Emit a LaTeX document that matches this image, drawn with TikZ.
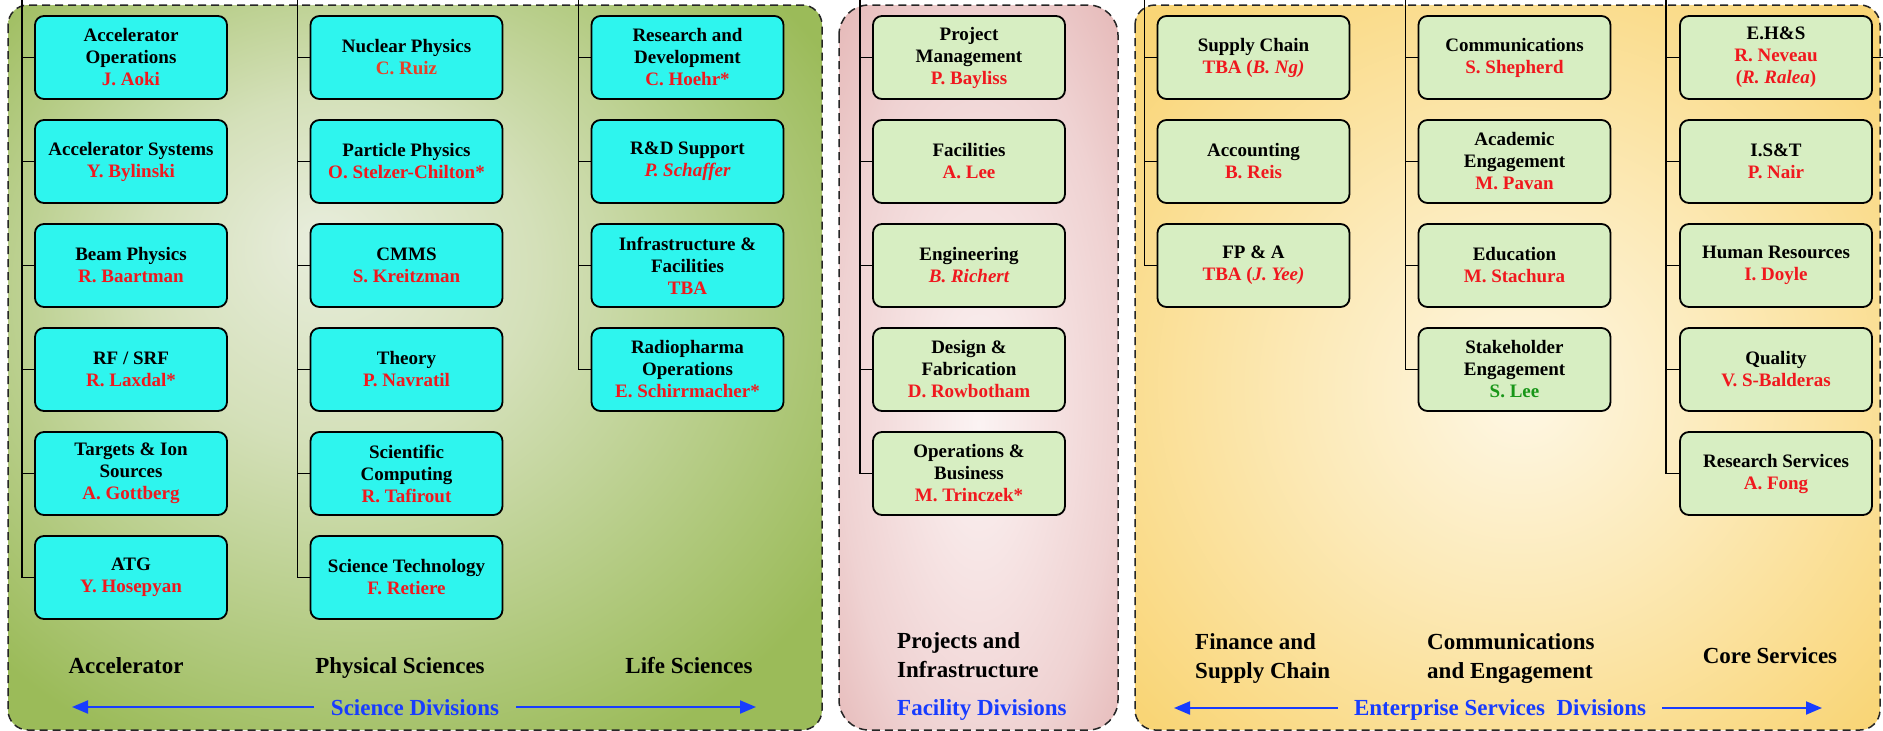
\documentclass[tikz,border=0pt]{standalone}
\usepackage{fontspec}
\setmainfont{Liberation Serif}
\usetikzlibrary{arrows.meta}
\definecolor{nred}{RGB}{240,24,30}
\definecolor{nora}{RGB}{232,64,40}
\definecolor{ngreen}{RGB}{24,150,24}
\definecolor{dblue}{RGB}{24,60,255}
\definecolor{cyanbox}{RGB}{46,245,238}
\definecolor{greenbox}{RGB}{215,238,194}
\definecolor{scil}{RGB}{232,237,220}
\definecolor{scim}{RGB}{212,224,185}
\definecolor{scid}{RGB}{155,187,89}
\definecolor{pinl}{RGB}{251,243,243}
\definecolor{pinm}{RGB}{246,227,227}
\definecolor{pinn}{RGB}{239,210,210}
\definecolor{pind}{RGB}{228,181,180}
\definecolor{yell}{RGB}{254,247,228}
\definecolor{yelm}{RGB}{252,234,185}
\definecolor{yeld}{RGB}{249,213,118}
\pgfdeclareradialshading{sciglow}{\pgfpoint{-6bp}{9bp}}{color(0bp)=(scil); color(12bp)=(scim); color(33bp)=(scid); color(50bp)=(scid)}
\pgfdeclareradialshading{pinglow}{\pgfpoint{0bp}{-4bp}}{color(0bp)=(pinl); color(12bp)=(pinm); color(25bp)=(pinn); color(38bp)=(pind); color(50bp)=(pind)}
\pgfdeclareradialshading{yelglow}{\pgfpoint{1bp}{-2bp}}{color(0bp)=(yell); color(14bp)=(yelm); color(34bp)=(yeld); color(50bp)=(yeld)}
\newcommand{\nm}[1]{\textcolor{nred}{#1}}
\begin{document}
\begin{tikzpicture}[x=1pt,y=-1pt,
  panel/.style={draw=black!85, line width=1.5pt, dash pattern=on 8pt off 5pt},
  boxbase/.style={draw=black, line width=1.8pt, rounded corners=9pt, minimum width=192pt, minimum height=83pt, inner sep=0pt, align=center, font=\bfseries\fontsize{19}{22}\selectfont},
  sbox/.style={boxbase, fill=cyanbox},
  gbox/.style={boxbase, fill=greenbox},
  trunk/.style={draw=black, line width=1.8pt},
  lab/.style={font=\bfseries\fontsize{23}{29}\selectfont, inner sep=0pt, align=left},
  blab/.style={lab, text=dblue},
  barrow/.style={draw=dblue, line width=2pt, -{Triangle[length=16pt,width=13pt]}}
]
\useasboundingbox (0,0) rectangle (1883,731);
\fill[white] (0,0) rectangle (1883,731);
% panels
\draw[panel, shading=sciglow, rounded corners=20pt] (8,5) rectangle (822,730);
\draw[panel, shading=pinglow, rounded corners=30pt] (839,5) rectangle (1118,730);
\draw[panel, shading=yelglow, rounded corners=20pt] (1135,5) rectangle (1880,730);

% Accelerator column
\node[sbox] (acc0) at (131,57.5) {Accelerator\\Operations\\\nm{J. Aoki}};
\node[sbox] (acc1) at (131,161.5) {Accelerator Systems\\\nm{Y. Bylinski}};
\node[sbox] (acc2) at (131,265.5) {Beam Physics\\\nm{R. Baartman}};
\node[sbox] (acc3) at (131,369.5) {RF / SRF\\\nm{R. Laxdal*}};
\node[sbox] (acc4) at (131,473.5) {Targets \& Ion\\Sources\\\nm{A. Gottberg}};
\node[sbox] (acc5) at (131,577.5) {ATG\\\nm{Y. Hosepyan}};
% Physical sciences
\node[sbox] (phy0) at (406.5,57.5) {Nuclear Physics\\\textcolor{nora}{C. Ruiz}};
\node[sbox] (phy1) at (406.5,161.5) {Particle Physics\\\nm{O. Stelzer-Chilton*}};
\node[sbox] (phy2) at (406.5,265.5) {CMMS\\\nm{S. Kreitzman}};
\node[sbox] (phy3) at (406.5,369.5) {Theory\\\nm{P. Navratil}};
\node[sbox] (phy4) at (406.5,473.5) {Scientific\\Computing\\\nm{R. Tafirout}};
\node[sbox] (phy5) at (406.5,577.5) {Science Technology\\\nm{F. Retiere}};
% Life sciences
\node[sbox] (lif0) at (687.5,57.5) {Research and\\Development\\\nm{C. Hoehr*}};
\node[sbox] (lif1) at (687.5,161.5) {R\&D Support\\\nm{\itshape P. Schaffer}};
\node[sbox] (lif2) at (687.5,265.5) {Infrastructure \&\\Facilities\\\nm{TBA}};
\node[sbox] (lif3) at (687.5,369.5) {Radiopharma\\Operations\\\nm{E. Schirrmacher*}};
% Projects
\node[gbox] (prj0) at (969,57.5) {Project\\Management\\\nm{P. Bayliss}};
\node[gbox] (prj1) at (969,161.5) {Facilities\\\nm{A. Lee}};
\node[gbox] (prj2) at (969,265.5) {Engineering\\\nm{\itshape B. Richert}};
\node[gbox] (prj3) at (969,369.5) {Design \&\\Fabrication\\\nm{D. Rowbotham}};
\node[gbox] (prj4) at (969,473.5) {Operations \&\\Business\\\nm{M. Trinczek*}};
% Finance
\node[gbox] (fin0) at (1253.5,57.5) {Supply Chain\\\nm{TBA (\textit{B. Ng)}}};
\node[gbox] (fin1) at (1253.5,161.5) {Accounting\\\nm{B. Reis}};
\node[gbox] (fin2) at (1253.5,265.5) {FP \& A\\\nm{TBA (\textit{J. Yee)}}};
% Communications
\node[gbox] (com0) at (1514.5,57.5) {Communications\\\nm{S. Shepherd}};
\node[gbox] (com1) at (1514.5,161.5) {Academic\\Engagement\\\nm{M. Pavan}};
\node[gbox] (com2) at (1514.5,265.5) {Education\\\nm{M. Stachura}};
\node[gbox] (com3) at (1514.5,369.5) {Stakeholder\\Engagement\\\textcolor{ngreen}{S. Lee}};
% Core services
\node[gbox] (cor0) at (1776,57.5) {E.H\&S\\\nm{R. Neveau}\\\nm{(\textit{R. Ralea})}};
\node[gbox] (cor1) at (1776,161.5) {I.S\&T\\\nm{P. Nair}};
\node[gbox] (cor2) at (1776,265.5) {Human Resources\\\nm{I. Doyle}};
\node[gbox] (cor3) at (1776,369.5) {Quality\\\nm{V. S-Balderas}};
\node[gbox] (cor4) at (1776,473.5) {Research Services\\\nm{A. Fong}};

% trunks
\coordinate (accT) at (22,0);
\coordinate (phyT) at (297.5,0);
\coordinate (lifT) at (578.5,0);
\coordinate (prjT) at (860,0);
\coordinate (finT) at (1144.5,0);
\coordinate (comT) at (1405.5,0);
\coordinate (corT) at (1666,0);
\coordinate (corR) at (1883,57.5);
\draw[trunk] (accT) |- (acc5.west);
\foreach \i in {0,...,4} \draw[trunk] (acc\i.west) -- (acc\i.west -| accT);
\draw[trunk] (phyT) |- (phy5.west);
\foreach \i in {0,...,4} \draw[trunk] (phy\i.west) -- (phy\i.west -| phyT);
\draw[trunk] (lifT) |- (lif3.west);
\foreach \i in {0,...,2} \draw[trunk] (lif\i.west) -- (lif\i.west -| lifT);
\draw[trunk] (prjT) |- (prj4.west);
\foreach \i in {0,...,3} \draw[trunk] (prj\i.west) -- (prj\i.west -| prjT);
\draw[trunk] (finT) |- (fin2.west);
\foreach \i in {0,...,1} \draw[trunk] (fin\i.west) -- (fin\i.west -| finT);
\draw[trunk] (comT) |- (com3.west);
\foreach \i in {0,...,2} \draw[trunk] (com\i.west) -- (com\i.west -| comT);
\draw[trunk] (corT) |- (cor4.west);
\foreach \i in {0,...,3} \draw[trunk] (cor\i.west) -- (cor\i.west -| corT);
\draw[trunk] (cor0.east) -- (corR);

% division labels
\node[lab, anchor=base] (lAcc) at (126,673) {Accelerator};
\node[lab, anchor=base] (lPhy) at (400,673) {Physical Sciences};
\node[lab, anchor=base] (lLif) at (689,673) {Life Sciences};
\node[lab, anchor=north west] (lPrj) at (897,632) {Projects and\\Infrastructure};
\node[blab, anchor=base west] (lFac) at (897,715) {Facility Divisions};
\node[lab, anchor=north west] (lFin) at (1195,633) {Finance and\\Supply Chain};
\node[lab, anchor=north west] (lCom) at (1427,633) {Communications\\and Engagement};
\node[lab, anchor=base] (lCor) at (1770,663) {Core Services};

% science arrow
\node[blab, anchor=base, inner xsep=17pt] (sciLab) at (415,715) {Science Divisions};
\coordinate (sciL) at (72,707);
\coordinate (sciR) at (756,707);
\draw[barrow] (sciLab.west |- sciL) -- (sciL);
\draw[barrow] (sciLab.east |- sciR) -- (sciR);
% enterprise arrow
\node[blab, anchor=base, inner xsep=16pt] (entLab) at (1500,715) {Enterprise Services\ \ Divisions};
\coordinate (entL) at (1174,708);
\coordinate (entR) at (1822,708);
\draw[barrow] (entLab.west |- entL) -- (entL);
\draw[barrow] (entLab.east |- entR) -- (entR);
\end{tikzpicture}
\end{document}
